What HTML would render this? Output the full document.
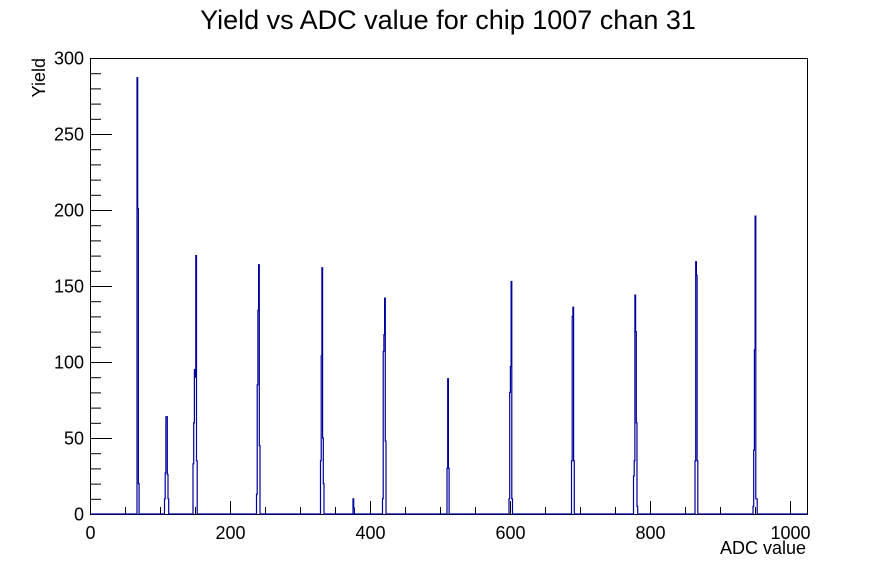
<!DOCTYPE html>
<html><head><style>
body{margin:0;background:#fff;}
svg{display:block;font-family:"Liberation Sans",Arial,sans-serif;}
</style></head><body>
<svg width="896" height="572" xmlns="http://www.w3.org/2000/svg">
<rect width="896" height="572" fill="#fff"/>
<text x="448" y="29" font-size="27" text-anchor="middle">Yield vs ADC value for chip 1007 chan 31</text>
<rect x="90.5" y="58.5" width="717" height="456" fill="none" stroke="#000" stroke-width="1"/>
<g stroke="#000" stroke-width="1" id="ticks"></g>
<g font-size="18" text-anchor="end" id="ylab"></g>
<g font-size="18" text-anchor="middle" id="xlab"></g>
<text x="806" y="554" font-size="18" text-anchor="end">ADC value</text>
<text x="45" y="58" font-size="18" text-anchor="end" transform="rotate(-90 45 58)">Yield</text>
<path id="h" fill="none" stroke="#00009a" stroke-width="1.2"/>
<script>
var ns="http://www.w3.org/2000/svg",t=document.getElementById('ticks'),yl=document.getElementById('ylab'),xl=document.getElementById('xlab');
function L(x1,y1,x2,y2){var l=document.createElementNS(ns,'line');l.setAttribute('x1',x1);l.setAttribute('y1',y1);l.setAttribute('x2',x2);l.setAttribute('y2',y2);t.appendChild(l);}
function T(g,x,y,s){var e=document.createElementNS(ns,'text');e.setAttribute('x',x);e.setAttribute('y',y);e.textContent=s;g.appendChild(e);}
function Y(v){return 514-v*1.52;}
for(var v=0;v<=300;v+=10){var y=Y(v)+0.5;L(90,y,v%50?101:112,y);if(v%50==0)T(yl,84,y+6,v);}
for(var v=0;v<=1000;v+=50){var x=90.5+v*0.7;L(x,514,x,v%200?507:501);if(v%200==0)T(xl,x,539,v);}
var peaks=[[137,[287,201,20]],[164.5,[10,27,64,64,26,10]],[193,[33,60,95,90,170,35]],[256.5,[13,85,134,164,45]],[320.5,[35,104,162,50,20]],[353,[10,4]],[382.5,[10,107,118,142,48]],[447,[30,89,30]],[509,[10,80,97,153,10]],[571.5,[35,130,136,35]],[633.5,[25,35,144,120,60,5]],[695,[35,166,157,35]],[753,[5,42,108,196,10,10]]];
var d="M90,514";var w=0.7;
peaks.forEach(function(p){var x=p[0];d+=" L"+x+",514";p[1].forEach(function(v){d+=" L"+x+","+Y(v);x+=w;d+=" L"+x+","+Y(v);});d+=" L"+x+",514";});
d+=" L807,514";document.getElementById('h').setAttribute('d',d);
</script>
</svg>
</body></html>
